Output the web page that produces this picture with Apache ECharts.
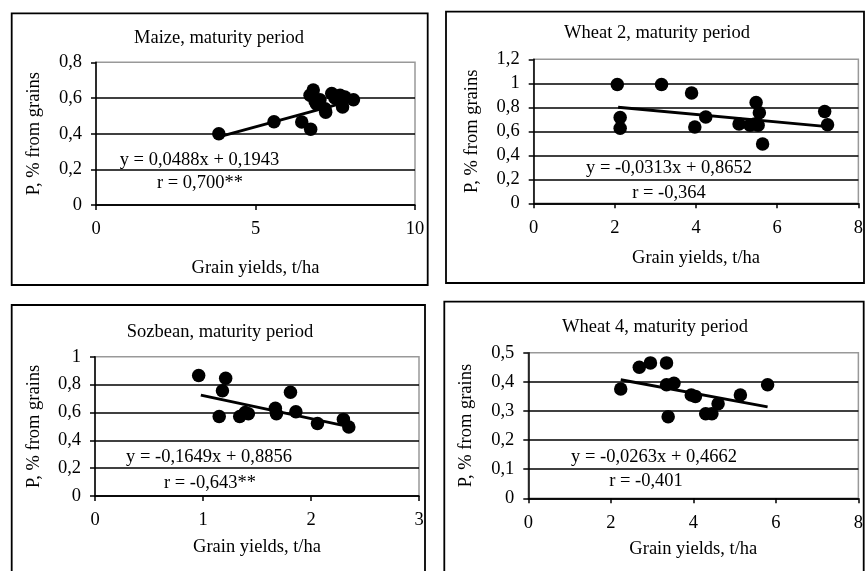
<!DOCTYPE html>
<html><head><meta charset="utf-8">
<script src="https://cdn.jsdelivr.net/npm/echarts@6/dist/echarts.min.js"></script>
<style>html,body{margin:0;padding:0;background:#fff}#c{width:866px;height:571px}</style>
</head><body><div id="c"></div>
<script>
// ---- data ----
const maizePoints = [[3.85,0.40],[5.58,0.467],[6.45,0.465],[6.73,0.425],[6.81,0.645],[6.71,0.615],[6.87,0.58],[6.92,0.565],[7.02,0.59],[7.18,0.54],[7.2,0.52],[7.39,0.625],[7.49,0.60],[7.65,0.615],[7.73,0.55],[7.8,0.605],[8.07,0.59]];
const maizeTrend = [[3.85,0.382],[8.07,0.588]];
const wheat2Points = [[2.06,0.99],[2.13,0.715],[2.13,0.625],[3.15,0.99],[3.89,0.92],[3.97,0.635],[4.24,0.72],[5.06,0.66],[5.33,0.65],[5.45,0.66],[5.48,0.84],[5.56,0.755],[5.53,0.65],[5.64,0.495],[7.17,0.765],[7.24,0.655]];
const wheat2Trend = [[2.08,0.800],[7.24,0.639]];
const soyPoints = [[0.96,0.865],[1.21,0.845],[1.18,0.755],[1.15,0.57],[1.34,0.57],[1.39,0.60],[1.42,0.59],[1.67,0.63],[1.68,0.59],[1.81,0.745],[1.86,0.605],[2.06,0.52],[2.30,0.55],[2.35,0.495]];
const soyTrend = [[0.98,0.724],[2.36,0.496]];
const wheat4Points = [[2.24,0.375],[2.69,0.45],[2.96,0.465],[3.35,0.465],[3.35,0.39],[3.53,0.395],[3.39,0.28],[3.95,0.355],[4.05,0.35],[4.3,0.29],[4.45,0.29],[4.6,0.325],[5.14,0.355],[5.8,0.39]];
const wheat4Trend = [[2.24,0.407],[5.8,0.314]];

const titles = ["Maize, maturity period","Wheat 2, maturity period","Sozbean, maturity period","Wheat 4, maturity period"];
const equations = ["y = 0,0488x + 0,1943","y = -0,0313x + 0,8652","y = -0,1649x + 0,8856","y = -0,0263x + 0,4662"];
const rValues = ["r = 0,700**","r = -0,364","r = -0,643**","r = -0,401"];
const xMax = [10,8,3,8];
const xInterval = [5,2,1,2];
const yMax = [0.8,1.2,1,0.5];
const yInterval = [0.2,0.2,0.2,0.1];
const xName = "Grain yields, t/ha";
const yName = "P, % from grains";

// ---- layout ----
const FONT = "'Liberation Serif','Times New Roman',serif";
const FS = 18.5;
const grids = [
  {left:96, top:62.3, width:319, height:142.7},
  {left:533.7, top:59.3, width:325, height:144},
  {left:95, top:356.7, width:324, height:139.3},
  {left:528.3, top:352.7, width:330.4, height:145.6}
];
const xNameGap = [54, 45, 42, 41];
const yNameGap = [52, 52, 51, 53];
const boxes = [
  {x:11.7, y:13.3, width:416, height:271.7},
  {x:446, y:11.7, width:418, height:271.3},
  {x:11.7, y:305, width:413.3, height:280},
  {x:444.3, y:301.7, width:419.4, height:280}
];
const titlePos = [[219,38],[657,33],[220,331.7],[655,326.7]];
const eqPos = [[199.5,160],[669,168],[209,456.7],[654,456.7]];
const rPos = [[200,183],[669,193],[210,482.7],[646,480.7]];

const fmt = v => String(+v.toFixed(2)).replace('.', ',');
const pointSets = [maizePoints, wheat2Points, soyPoints, wheat4Points];
const trendSets = [maizeTrend, wheat2Trend, soyTrend, wheat4Trend];

const option = {
  backgroundColor: '#fff',
  animation: false,
  grid: grids.map(g => Object.assign({show:true, borderColor:'#999', borderWidth:1.5, containLabel:false}, g)),
  xAxis: grids.map((g,i) => ({
    type:'value', gridIndex:i, min:0, max:xMax[i], interval:xInterval[i],
    name:xName, nameLocation:'middle', nameGap:xNameGap[i],
    nameTextStyle:{fontFamily:FONT, fontSize:FS, color:'#000'},
    axisLine:{show:true, onZero:false, lineStyle:{color:'#000', width:1.5}},
    axisTick:{show:true, length:5, lineStyle:{color:'#000', width:1.5}},
    axisLabel:{margin:15, fontFamily:FONT, fontSize:FS, color:'#000', formatter:fmt},
    splitLine:{show:false}
  })),
  yAxis: grids.map((g,i) => ({
    type:'value', gridIndex:i, min:0, max:yMax[i], interval:yInterval[i],
    name:yName, nameLocation:'middle', nameGap:yNameGap[i], nameRotate:90,
    nameTextStyle:{fontFamily:FONT, fontSize:FS, color:'#000'},
    axisLine:{show:true, onZero:false, lineStyle:{color:'#000', width:1.5}},
    axisTick:{show:true, length:5, lineStyle:{color:'#000', width:1.5}},
    axisLabel:{margin:14, fontFamily:FONT, fontSize:FS, color:'#000', formatter:fmt},
    splitLine:{show:true, showMaxLine:false, lineStyle:{color:'#000', width:1.5}}
  })),
  series: [].concat(
    pointSets.map((d,i) => ({type:'scatter', xAxisIndex:i, yAxisIndex:i, data:d, symbolSize:13.5, itemStyle:{color:'#000', opacity:1}, z:3})),
    trendSets.map((d,i) => ({type:'line', xAxisIndex:i, yAxisIndex:i, data:d, symbol:'none', lineStyle:{color:'#000', width:3}, z:4}))
  ),
  graphic: [].concat(
    boxes.map(b => ({type:'rect', shape:b, style:{fill:'none', stroke:'#000', lineWidth:1.8}, z:10})),
    titles.map((t,i) => ({type:'text', x:titlePos[i][0], y:titlePos[i][1], style:{text:t, font:`${FS}px ${FONT}`, fill:'#000', textAlign:'center', textVerticalAlign:'middle'}, z:10})),
    equations.map((t,i) => ({type:'text', x:eqPos[i][0], y:eqPos[i][1], style:{text:t, font:`${FS}px ${FONT}`, fill:'#000', textAlign:'center', textVerticalAlign:'middle'}, z:10})),
    rValues.map((t,i) => ({type:'text', x:rPos[i][0], y:rPos[i][1], style:{text:t, font:`${FS}px ${FONT}`, fill:'#000', textAlign:'center', textVerticalAlign:'middle'}, z:10}))
  )
};
const chart = echarts.init(document.getElementById('c'), null, {renderer:'canvas'});
chart.setOption(option);
</script>
</body></html>
